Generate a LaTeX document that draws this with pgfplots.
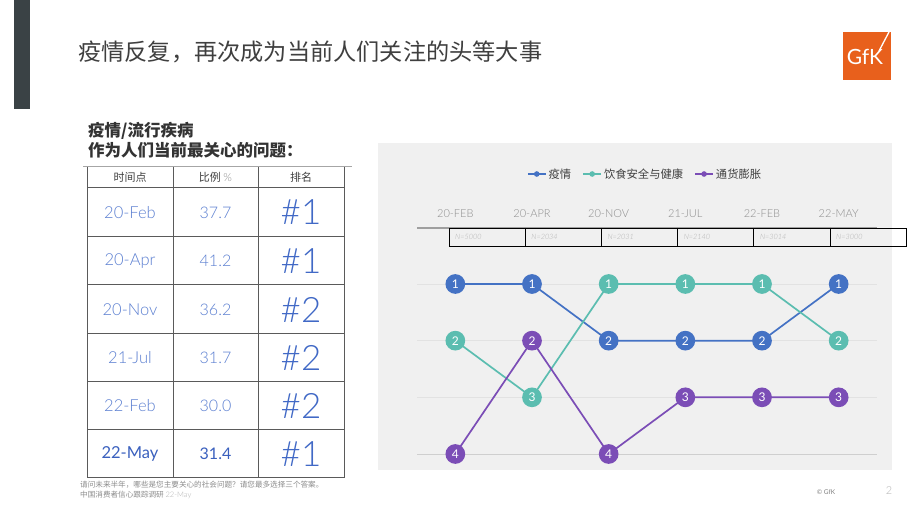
\documentclass[border=0pt]{standalone}
\usepackage{pgfplots}
\usepackage{pgfplotstable}
\pgfplotsset{compat=1.18}
\usepackage{fontspec}
\setmainfont{Lato}
\newfontfamily\latol{Lato Light}
\newfontfamily\cjk{Noto Sans CJK SC}
\definecolor{barcol}{HTML}{3A4245}
\definecolor{titlecol}{HTML}{3F3F3F}
\definecolor{gfkorange}{HTML}{E8601C}
\definecolor{headcol}{HTML}{333333}
\definecolor{tabline}{HTML}{5A5A5A}
\definecolor{dateblue}{HTML}{5B7FD1}
\definecolor{darkblue}{HTML}{3A60BE}
\definecolor{rankblue}{HTML}{4169C6}
\definecolor{panelbg}{HTML}{F0F0F0}
\definecolor{cblue}{HTML}{4472C4}
\definecolor{cteal}{HTML}{5BBDB0}
\definecolor{cpurple}{HTML}{7B4DB6}
\definecolor{labgray}{HTML}{8C8C8C}
\definecolor{gridc}{HTML}{E2E2E2}
\definecolor{gridd}{HTML}{CFCFCF}

\pgfplotstableread{
x yiqing shipin tonghuo
0 1 2 4
1 1 3 2
2 2 1 4
3 2 1 3
4 2 1 3
5 1 2 3
}\ranks

\begin{document}
\begin{tikzpicture}[x=1pt,y=1pt]
\useasboundingbox (0,0) rectangle (920,518);
\fill[white] (0,0) rectangle (920,518);
% left dark bar
\fill[barcol] (14,409) rectangle (30,518);
% title
\node[anchor=west, inner sep=0, text=titlecol, font=\cjk\fontsize{23.2}{26}\selectfont] at (78,466) {疫情反复，再次成为当前人们关注的头等大事};
% logo
\fill[gfkorange] (843,438) rectangle (891,486);
\node[text=white, inner sep=0, font=\fontsize{21}{22}\selectfont] at (865,461) {GfK};
\draw[white, line width=1.3pt] (889,486) -- (879,467);

% headings
\node[anchor=base west, inner sep=0, text=headcol, font=\cjk\bfseries\fontsize{16.5}{18}\selectfont] at (88,381) {疫情/流行疾病};
\node[anchor=base west, inner sep=0, text=headcol, font=\cjk\bfseries\fontsize{16.5}{18}\selectfont] at (88,361) {作为人们当前最关心的问题：};

% table
\draw[gray!70, line width=1pt] (83,351) -- (352,351);
\foreach \xx in {87,173,258,344} \draw[tabline, line width=1pt] (\xx,351) -- (\xx,40);
\foreach \yy in {330,281,233,184,136,88,40} \draw[tabline, line width=1pt] (87,\yy) -- (344,\yy);
\node[text=titlecol, font=\cjk\fontsize{11}{12}\selectfont] at (130,340.5) {时间点};
\node[text=titlecol, font=\cjk\fontsize{11}{12}\selectfont] at (215.5,340.5) {比例 {\latol\color{labgray}\%}};
\node[text=titlecol, font=\cjk\fontsize{11}{12}\selectfont] at (301,340.5) {排名};
\foreach \d/\v/\r/\yy in {20-Feb/37.7/1/305.5, 20-Apr/41.2/1/257, 20-Nov/36.2/2/208.5, 21-Jul/31.7/2/160, 22-Feb/30.0/2/112}{
  \node[text=dateblue, font=\latol\fontsize{16.5}{18}\selectfont] at (130,\yy) {\d};
  \node[text=dateblue, font=\latol\fontsize{16}{18}\selectfont] at (215.5,\yy) {\v};
  \node[text=rankblue, font=\latol\fontsize{35}{37}\selectfont] at (301,\yy) {\#\r};
}
\node[text=darkblue, font=\fontsize{16.5}{18}\selectfont] at (130,64) {22-May};
\node[text=darkblue, font=\fontsize{16}{18}\selectfont] at (215.5,64) {31.4};
\node[text=rankblue, font=\latol\fontsize{35}{37}\selectfont] at (301,64) {\#1};

% footnotes
\node[anchor=base west, inner sep=0, text=labgray, font=\cjk\fontsize{7.6}{8}\selectfont] at (80,30) {请问未来半年，哪些是您主要关心的社会问题？请您最多选择三个答案。};
\node[anchor=base west, inner sep=0, text=labgray, font=\cjk\fontsize{7.6}{8}\selectfont] at (80,20) {中国消费者信心跟踪调研 {\latol\color{gray!60}22-May}};
\node[anchor=base, inner sep=0, text=gray, font=\fontsize{6.5}{8}\selectfont] at (826,23) {\textcopyright{} GfK};
\node[anchor=base, inner sep=0, text=gray!60, font=\latol\fontsize{11}{12}\selectfont] at (889,23) {2};

% chart panel
\fill[panelbg] (378,48) rectangle (892,375);
\draw[gray!75, line width=1.5pt] (417,290) -- (877,290);
\draw[black, line width=0.8pt] (449,290) rectangle (906,272);
\foreach \xx in {525.2,601.4,677.6,753.8,830} \draw[black, line width=0.8pt] (\xx,290) -- (\xx,272);
\foreach \xx/\n in {449/5000,525.2/2034,601.4/2031,677.6/2140,753.8/3014,830/3000}
  \node[anchor=west, inner sep=0, text=gray!60, font=\latol\itshape\fontsize{7.3}{8}\selectfont] at (\xx+6,281) {N=\n};

\coordinate (AX) at (417,64);
\begin{axis}[
  at={(AX)}, anchor=south west,
  width=460pt, height=170pt, scale only axis,
  xmin=-0.5, xmax=5.5, ymin=1, ymax=4,
  clip=false,
  axis line style={draw=none},
  major tick length=0pt,
  xtick={0,1,2,3,4,5},
  xticklabels={20-FEB,20-APR,20-NOV,21-JUL,22-FEB,22-MAY},
  xticklabel pos=upper,
  xticklabel style={font=\latol\fontsize{11}{12}\selectfont, text=labgray, anchor=base, yshift=66pt},
  ytick={2,3,4}, yticklabels={},
  extra y ticks={1}, extra y tick labels={},
  extra y tick style={major grid style={color=gridd, line width=0.9pt}},
  ymajorgrids, major grid style={color=gridc, line width=0.9pt},
  /pgf/number format/assume math mode=true,
  point meta=explicit,
  nodes near coords,
  every node near coord/.append style={anchor=center, text=white, inner sep=0pt, font=\fontsize{12}{12}\selectfont},
  legend columns=3,
  legend style={at={(axis description cs:0.4957,1.647)}, anchor=center, draw=none, fill=none,
    font=\cjk\fontsize{11.3}{13}\selectfont, text=titlecol,
    /tikz/every even column/.append style={column sep=9pt}},
  legend image code/.code={\draw[#1, mark=none, line width=1.8pt] (0pt,0pt) -- (18pt,0pt);
    \fill[#1, draw=none] (9pt,0pt) circle (2.8pt);},
]
\addplot[color=cblue, line width=1.7pt, mark=*, mark size=9pt, mark options={fill=cblue, draw=cblue}]
  table[x=x, y expr=5-\thisrow{yiqing}, meta=yiqing] {\ranks};
\addlegendentry{疫情}
\addplot[color=cteal, line width=1.7pt, mark=*, mark size=9pt, mark options={fill=cteal, draw=cteal}]
  table[x=x, y expr=5-\thisrow{shipin}, meta=shipin] {\ranks};
\addlegendentry{饮食安全与健康}
\addplot[color=cpurple, line width=1.7pt, mark=*, mark size=9pt, mark options={fill=cpurple, draw=cpurple}]
  table[x=x, y expr=5-\thisrow{tonghuo}, meta=tonghuo] {\ranks};
\addlegendentry{通货膨胀}
\end{axis}
\end{tikzpicture}
\end{document}
